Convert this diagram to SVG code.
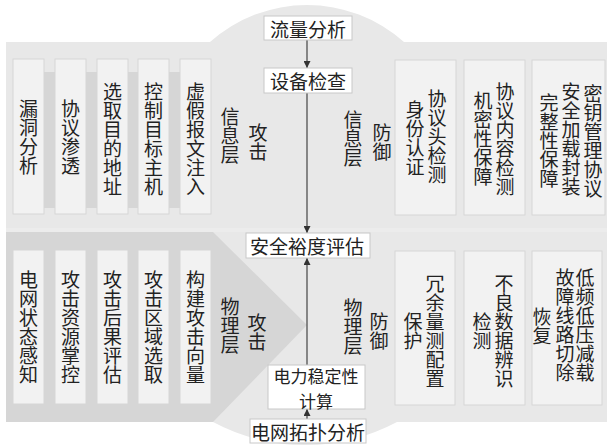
<svg xmlns="http://www.w3.org/2000/svg" width="607" height="446" viewBox="0 0 607 446">
<defs>
<style>
.card{fill:#f2f2f2;stroke:#d6d6d6;stroke-width:1}
.box{fill:#ffffff;stroke:#c8c8c8;stroke-width:1}
.vt{font-family:"Noto Sans CJK SC","Noto Sans CJK JP",sans-serif;font-size:19px;fill:#222;writing-mode:vertical-rl;text-anchor:middle;dominant-baseline:central}
.ht{font-family:"Noto Sans CJK SC","Noto Sans CJK JP",sans-serif;font-size:19px;fill:#222;text-anchor:middle;dominant-baseline:central}
.conn{stroke:#444;stroke-width:1.2;fill:none}
</style>
<marker id="ah" viewBox="0 0 10 10" refX="10" refY="5" markerWidth="7" markerHeight="7" orient="auto-start-reverse" markerUnits="userSpaceOnUse">
<path d="M0,0 L10,5 L0,10 Z" fill="#333"/>
</marker>
</defs>
<rect width="607" height="446" fill="#ffffff"/>
<g id="background">
<path d="M6,42 H210 A145.6,145.6 0 0 1 404,42 H607 V422 H397 A195.5,195.5 0 0 1 213,422 H6 Z" fill="#e8e8e8"/>
<rect x="6" y="228" width="601" height="4" fill="#ececec"/>
<polygon points="6,232 213,232 307,325 213,422 6,422" fill="#d6d6d6"/>
<rect x="40" y="72" width="145" height="136" fill="#d6d6d6"/>
</g>
<g id="connectors">
<line class="conn" x1="307" y1="40" x2="307" y2="68" marker-end="url(#ah)"/>
<line class="conn" x1="307" y1="93" x2="307" y2="233" marker-end="url(#ah)"/>
<line class="conn" x1="307" y1="365" x2="307" y2="258" marker-end="url(#ah)"/>
<line class="conn" x1="307" y1="419" x2="307" y2="409" marker-end="url(#ah)"/>
</g>
<g id="info-attack">
<rect class="card" x="13" y="59" width="31" height="155"/><text class="vt" x="28.5" y="137">漏洞分析</text>
<rect class="card" x="55" y="59" width="31" height="155"/><text class="vt" x="70.5" y="137">协议渗透</text>
<rect class="card" x="97" y="59" width="31" height="155"/><text class="vt" x="112.5" y="139">选取目的地址</text>
<rect class="card" x="138" y="59" width="31" height="155"/><text class="vt" x="153.5" y="139">控制目标主机</text>
<rect class="card" x="180" y="59" width="31" height="155"/><text class="vt" x="195.5" y="139">虚假报文注入</text>
<text class="vt" x="230" y="136">信息层</text>
<text class="vt" x="258" y="142">攻击</text>
</g>
<g id="info-defense">
<text class="vt" x="353" y="139">信息层</text>
<text class="vt" x="382" y="142">防御</text>
<rect class="card" x="395" y="60" width="61" height="155"/>
<text class="vt" x="437" y="137">协议头检测</text>
<text class="vt" x="415" y="138">身份认证</text>
<rect class="card" x="464" y="60" width="61" height="155"/>
<text class="vt" x="505" y="139">协议内容检测</text>
<text class="vt" x="483" y="139">机密性保障</text>
<rect class="card" x="532" y="60" width="73" height="155"/>
<text class="vt" x="593" y="141">密钥管理协议</text>
<text class="vt" x="571" y="139">安全加载封装</text>
<text class="vt" x="549" y="141">完整性保障</text>
</g>
<g id="phys-attack">
<rect class="card" x="13" y="250" width="31" height="154"/><text class="vt" x="28.5" y="327">电网状态感知</text>
<rect class="card" x="55" y="250" width="31" height="154"/><text class="vt" x="70.5" y="327">攻击资源掌控</text>
<rect class="card" x="97" y="250" width="31" height="154"/><text class="vt" x="112.5" y="327">攻击后果评估</text>
<rect class="card" x="138" y="250" width="31" height="154"/><text class="vt" x="153.5" y="327">攻击区域选取</text>
<rect class="card" x="180" y="250" width="31" height="154"/><text class="vt" x="195.5" y="327">构建攻击向量</text>
<text class="vt" x="230" y="326">物理层</text>
<text class="vt" x="257" y="332">攻击</text>
</g>
<g id="phys-defense">
<text class="vt" x="353" y="327">物理层</text>
<text class="vt" x="379" y="331">防御</text>
<rect class="card" x="395" y="251" width="60" height="154"/>
<text class="vt" x="435" y="331">冗余量测配置</text>
<text class="vt" x="413" y="331">保护</text>
<rect class="card" x="464" y="251" width="61" height="154"/>
<text class="vt" x="504" y="331">不良数据辨识</text>
<text class="vt" x="482" y="331">检测</text>
<rect class="card" x="532" y="251" width="70" height="154"/>
<text class="vt" x="585" y="325">低频低压减载</text>
<text class="vt" x="565" y="325">故障线路切除</text>
<text class="vt" x="542" y="326">恢复</text>
</g>
<g id="flow-analysis"><rect class="box" x="264" y="16" width="88" height="24"/><text class="ht" x="308" y="28">流量分析</text></g>
<g id="device-check"><rect class="box" x="264" y="68" width="88" height="25"/><text class="ht" x="308" y="80.5">设备检查</text></g>
<g id="margin-eval"><rect class="box" x="246" y="233" width="124" height="25"/><text class="ht" x="307" y="245.5">安全裕度评估</text></g>
<g id="stability-calc"><rect class="box" x="268" y="365" width="97" height="44"/><text class="ht" x="316" y="374" style="font-size:17px"><tspan x="316" y="374.5">电力稳定性</tspan><tspan x="316" y="399.5">计算</tspan></text></g>
<g id="topology-analysis"><rect class="box" x="250" y="419" width="116" height="24"/><text class="ht" x="308" y="431">电网拓扑分析</text></g>
</svg>
